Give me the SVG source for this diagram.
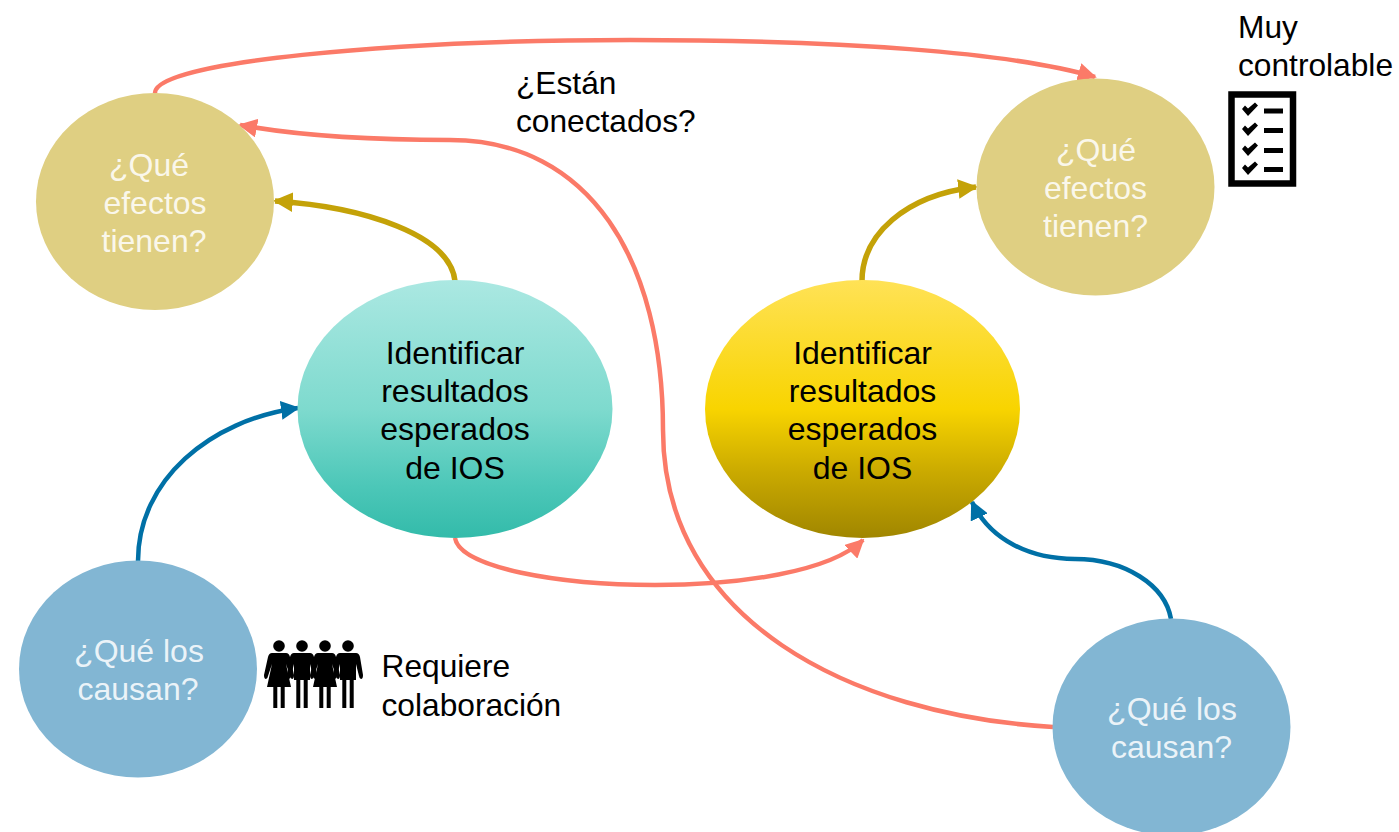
<svg xmlns="http://www.w3.org/2000/svg" width="1399" height="832" viewBox="0 0 1399 832">
<style>
text{font-family:"Liberation Sans",Arial,sans-serif;font-size:32px;text-anchor:middle;fill:#000}
.w text{fill:#fff;fill-opacity:.86}
#etiquetas text{font-size:31.7px}
.l{text-anchor:start}
.c{fill:none;stroke-width:4.500}
.o{stroke:#FB7A68}.g{stroke:#C4A208;stroke-width:5.500}.b{stroke:#0070A6}
.tan{fill:#DFCF82}.blue{fill:#82B6D3}
</style>
<defs>
<linearGradient id="teal" x1="0" y1="0" x2="0" y2="1"><stop offset="0" stop-color="#ABE8E2"/><stop offset=".5" stop-color="#7EDACE"/><stop offset=".8" stop-color="#4CC7B8"/><stop offset="1" stop-color="#33BBAA"/></linearGradient>
<linearGradient id="gold" x1="0" y1="0" x2="0" y2="1"><stop offset="0" stop-color="#FFE256"/><stop offset=".5" stop-color="#F8D400"/><stop offset=".75" stop-color="#C9A900"/><stop offset="1" stop-color="#A08600"/></linearGradient>
<marker id="mo" viewBox="0 0 10 10" refX="9" refY="5" markerWidth="4.200" markerHeight="4.200" orient="auto"><path d="M0 0L10 5L0 10z" fill="#FB7A68"/></marker>
<marker id="mg" viewBox="0 0 10 10" refX="9" refY="5" markerWidth="3.600" markerHeight="3.600" orient="auto"><path d="M0 0L10 5L0 10z" fill="#C4A208"/></marker>
<marker id="mb" viewBox="0 0 10 10" refX="9" refY="5" markerWidth="4.200" markerHeight="4.200" orient="auto"><path d="M0 0L10 5L0 10z" fill="#0070A6"/></marker>
<g id="man"><circle cx="0" cy="-62" r="5.800"/><path d="M-8-55H8Q11-55 12-51L15-33Q15-29 13-29Q11.500-29 11-32L8-44V-28H5.700V0H1.700V-28H-1.700V0H-5.700V-28H-8V-44L-11-32Q-11.500-29-13-29Q-15-29-15-33L-12-51Q-11-55-8-55z"/></g>
<g id="woman"><circle cx="0" cy="-62" r="5.800"/><path d="M-7-55H7Q10-55 11-51L15-33Q15-29 13-29Q11.500-29 11-32L7-44L12-21H5.700V0H1.700V-21H-1.700V0H-5.700V-21H-12L-7-44L-11-32Q-11.500-29-13-29Q-15-29-15-33L-11-51Q-10-55-7-55z"/></g>
<path id="chk" d="M-8-1L-5-4.500L-2-1.500L5-7.500L8-4.500L-2 6z"/>
</defs>
<g id="connectors">
<path class="c o" marker-end="url(#mo)" d="M155 93C155 62 390 40 630 40C840 40 1010 52 1095 77"/>
<path class="c o" marker-end="url(#mo)" d="M1053 727C850 715 663 620 663 430C663 260 590 140 450 140C370 140 300 136 240 125"/>
<path class="c o" marker-end="url(#mo)" d="M455 538C460 568 560 585 655 585C740 585 830 572 863 540"/>
<path class="c g" marker-end="url(#mg)" d="M455 281C450 235 365 207 275 201"/>
<path class="c g" marker-end="url(#mg)" d="M862 281C862 235 905 195 976 187"/>
<path class="c b" marker-end="url(#mb)" d="M138 561C138 480 210 420 298 408"/>
<path class="c b" marker-end="url(#mb)" d="M1171 619C1165 585 1125 559 1075 559C1030 559 990 540 972 502"/>
</g>
<g id="n-efectos-izq" class="w"><ellipse class="tan" cx="155" cy="201.500" rx="119" ry="108.500"/><text x="149" y="176">¿Qué</text><text x="155" y="214">efectos</text><text x="154" y="252">tienen?</text></g>
<g id="n-efectos-der" class="w"><ellipse class="tan" cx="1095.500" cy="187" rx="119" ry="108.500"/><text x="1096" y="161">¿Qué</text><text x="1095.500" y="199">efectos</text><text x="1095.500" y="237">tienen?</text></g>
<g id="n-resultados-izq"><ellipse fill="url(#teal)" cx="455" cy="409" rx="157.500" ry="129"/><text x="455" y="364">Identificar</text><text x="455" y="402">resultados</text><text x="455" y="440">esperados</text><text x="455" y="479">de IOS</text></g>
<g id="n-resultados-der"><ellipse fill="url(#gold)" cx="862.500" cy="409" rx="157.500" ry="129"/><text x="862.500" y="364">Identificar</text><text x="862.500" y="402">resultados</text><text x="862.500" y="440">esperados</text><text x="862.500" y="479">de IOS</text></g>
<g id="n-causan-izq" class="w"><ellipse class="blue" cx="138" cy="669" rx="119" ry="108.500"/><text x="139" y="662">¿Qué los</text><text x="138" y="700">causan?</text></g>
<g id="n-causan-der" class="w"><ellipse class="blue" cx="1171.500" cy="727" rx="119" ry="108.500"/><text x="1172" y="720">¿Qué los</text><text x="1171.500" y="758">causan?</text></g>
<g id="etiquetas">
<text class="l" x="516" y="94">¿Están</text><text class="l" x="516" y="132">conectados?</text>
<text class="l" x="1238" y="38">Muy</text><text class="l" x="1238" y="76">controlable</text>
<text class="l" x="381.500" y="677">Requiere</text><text class="l" x="381.500" y="716">colaboración</text>
</g>
<g id="icono-personas">
<use href="#woman" x="279" y="708"/><use href="#man" x="302" y="708"/><use href="#woman" x="325" y="708"/><use href="#man" x="348" y="708"/>
</g>
<g id="icono-lista">
<rect x="1231.500" y="94.500" width="61.500" height="89" fill="#fff" stroke="#000" stroke-width="6.500"/>
<use href="#chk" x="1250" y="110"/><use href="#chk" x="1250" y="130"/><use href="#chk" x="1250" y="150"/><use href="#chk" x="1250" y="169"/>
<rect x="1264" y="108.500" width="19" height="5"/><rect x="1264" y="128" width="19" height="5"/><rect x="1264" y="148" width="19" height="5"/><rect x="1264" y="167" width="19" height="5"/>
</g>
</svg>
